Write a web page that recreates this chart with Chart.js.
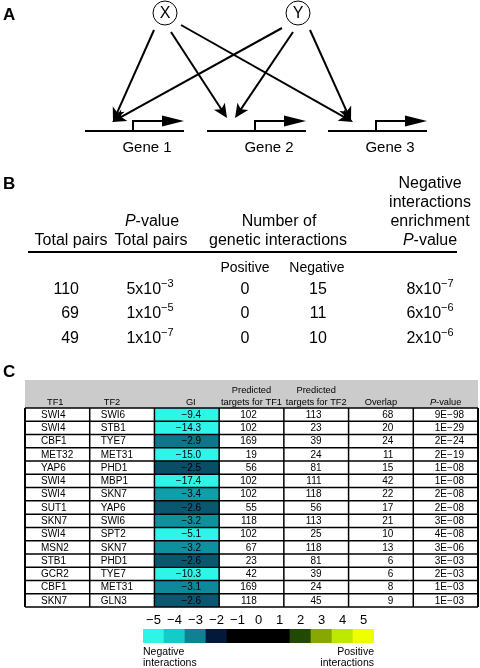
<!DOCTYPE html>
<html><head><meta charset="utf-8">
<script src="https://cdn.jsdelivr.net/npm/chart.js@4/dist/chart.umd.min.js"></script>
<style>
html,body{margin:0;padding:0;background:#fff;}
#wrap{position:relative;width:480px;height:668px;overflow:hidden;}
canvas{position:absolute;left:0;}
</style></head><body>
<div id="wrap">
<canvas id="main" width="480" height="668" style="top:0"></canvas>
<canvas id="scale" width="480" height="60" style="top:608px"></canvas>
</div>
<script>
// ---------- Data: panel C ----------
const tf1 = ['SWI4','SWI4','CBF1','MET32','YAP6','SWI4','SWI4','SUT1','SKN7','SWI4','MSN2','STB1','GCR2','CBF1','SKN7'];
const tf2 = ['SWI6','STB1','TYE7','MET31','PHD1','MBP1','SKN7','YAP6','SWI6','SPT2','SKN7','PHD1','TYE7','MET31','GLN3'];
const gi = [-9.4,-14.3,-2.9,-15.0,-2.5,-17.4,-3.4,-2.6,-3.2,-5.1,-3.2,-2.6,-10.3,-3.1,-2.6];
const targetsTF1 = [102,102,169,19,56,102,102,55,118,102,67,23,42,169,118];
const targetsTF2 = [113,23,39,24,81,111,118,56,113,25,118,81,39,24,45];
const overlap = [68,20,24,11,15,42,22,17,21,10,13,6,6,8,9];
const pValues = ['9E−98','1E−29','2E−24','2E−19','1E−08','1E−08','2E−08','2E−08','3E−08','4E−08','3E−06','3E−03','2E−03','1E−03','1E−03'];
// ---------- Data: colour scale ----------
const colorTicks = [-5,-4,-3,-2,-1,0,1,2,3,4,5];
const colorStops = ['#2ff5e8','#14cbcb','#0e8194','#04183a','#000000','#000000','#000000','#214a00','#87a800','#bde800','#eeff00'];
// ---------- Data: panel B ----------
const totalPairs = [110,69,49];
const pTotalMant = ['5','1','1'];
const pTotalExp = ['−3','−5','−7'];
const positiveGI = [0,0,0];
const negativeGI = [15,11,10];
const enrichMant = ['8','6','2'];
const enrichExp = ['−7','−6','−6'];
// ---------- Data: panel A ----------
const regulators = ['X','Y'];
const genes = ['Gene 1','Gene 2','Gene 3'];
const edges = [[0,0],[0,1],[0,2],[1,0],[1,1],[1,2]];

const FONT = '"Liberation Sans", Arial, Helvetica, sans-serif';
const GI_COL = 2;

function hex2rgb(h){return [parseInt(h.substr(1,2),16),parseInt(h.substr(3,2),16),parseInt(h.substr(5,2),16)];}
function colorFor(v){
  const lo = colorTicks[0], hi = colorTicks[colorTicks.length-1];
  const c = Math.max(lo, Math.min(hi, v));
  let i = Math.floor(c - lo); if (i >= colorTicks.length-1) i = colorTicks.length-2;
  const t = (c - colorTicks[i]) / (colorTicks[i+1]-colorTicks[i]);
  const a = hex2rgb(colorStops[i]), b = hex2rgb(colorStops[i+1]);
  const r = a.map((x,k)=>Math.round(x+(b[k]-x)*t));
  return 'rgb('+r.join(',')+')';
}
function fmt(v){return v.toFixed(1).replace('-','−');}

function text(ctx, s, x, y, size, align, weight, style){
  ctx.font = (style||'') + ' ' + (weight||'') + ' ' + size + 'px ' + FONT;
  ctx.textAlign = align || 'left';
  ctx.textBaseline = 'middle';
  ctx.fillStyle = '#000';
  ctx.fillText(s, x, y);
}
function sci(ctx, mant, exp, cx, y, size){
  const base = mant + 'x10';
  ctx.font = size + 'px ' + FONT;
  const w1 = ctx.measureText(base).width;
  ctx.font = Math.round(size*0.7) + 'px ' + FONT;
  const w2 = ctx.measureText(exp).width;
  const x0 = cx - (w1+w2)/2;
  text(ctx, base, x0, y, size, 'left');
  text(ctx, exp, x0 + w1, y - size*0.38, Math.round(size*0.7), 'left');
}
function pValueLabel(ctx, cx, y, size){
  ctx.font = 'italic ' + size + 'px ' + FONT;
  const w1 = ctx.measureText('P').width;
  ctx.font = size + 'px ' + FONT;
  const w2 = ctx.measureText('-value').width;
  const x0 = cx - (w1+w2)/2;
  text(ctx,'P',x0,y,size,'left','','italic');
  text(ctx,'-value',x0+w1,y,size,'left');
}
function arrowHead(ctx, x1, y1, x2, y2, len, half){
  const ang = Math.atan2(y2-y1, x2-x1);
  const cos = Math.cos(ang), sin = Math.sin(ang);
  ctx.beginPath();
  ctx.moveTo(x2, y2);
  ctx.lineTo(x2 - len*cos + half*sin, y2 - len*sin - half*cos);
  ctx.lineTo(x2 - len*0.75*cos, y2 - len*0.75*sin);
  ctx.lineTo(x2 - len*cos - half*sin, y2 - len*sin + half*cos);
  ctx.closePath();
  ctx.fill();
}

// panel A layout
const A = {
  nodes: [{x:165,y:13},{x:298,y:13}], r: 12,
  geneLineY: 131, geneX: [85,207,328], geneW: 99, labelY: 148,
  starts: [[[154,30],[171,32],[181,25]],[[282,28],[293,32],[310,30]]],
  ends: [[[113,122],[227,118],[353,122]],[[112,122],[235,118],[351,121]]]
};

const figurePlugin = {
  id: 'figure',
  beforeDatasetsDraw(chart){
    const ctx = chart.ctx; const ca = chart.chartArea;
    ctx.save();
    text(ctx,'A',3,15,17,'left','bold');
    text(ctx,'B',3,184,17,'left','bold');
    text(ctx,'C',3,372,17,'left','bold');
    // ---- Panel A
    ctx.strokeStyle = '#000'; ctx.fillStyle = '#000';
    A.nodes.forEach((n,i)=>{
      ctx.lineWidth = 1; ctx.beginPath(); ctx.arc(n.x,n.y,A.r,0,Math.PI*2); ctx.stroke();
      text(ctx, regulators[i], n.x, n.y+1, 16, 'center');
    });
    genes.forEach((g,i)=>{
      const x0 = A.geneX[i], x1 = x0 + A.geneW, y = A.geneLineY;
      ctx.lineWidth = 2; ctx.strokeStyle = '#000';
      ctx.beginPath(); ctx.moveTo(x0,y); ctx.lineTo(x1,y); ctx.stroke();
      const px = x0 + 48;
      ctx.beginPath(); ctx.moveTo(px,y); ctx.lineTo(px,y-10); ctx.lineTo(x1-20,y-10); ctx.stroke();
      ctx.beginPath(); ctx.moveTo(x1,y-10); ctx.lineTo(x1-22,y-15.5); ctx.lineTo(x1-22,y-4.5); ctx.closePath(); ctx.fillStyle='#000'; ctx.fill();
      text(ctx, g, x0 + 62, A.labelY, 15, 'center');
    });
    edges.forEach(([r,g])=>{
      const s = A.starts[r][g], e = A.ends[r][g];
      const ang = Math.atan2(e[1]-s[1], e[0]-s[0]);
      ctx.lineWidth = 2;
      ctx.beginPath(); ctx.moveTo(s[0],s[1]); ctx.lineTo(e[0]-8*Math.cos(ang), e[1]-8*Math.sin(ang)); ctx.stroke();
      arrowHead(ctx, s[0], s[1], e[0], e[1], 14, 6.5);
    });
    // ---- Panel B
    const hs = 16, c4 = 430;
    text(ctx,'Negative',c4,184,hs,'center');
    text(ctx,'interactions',c4,203,hs,'center');
    pValueLabel(ctx,152,222,hs);
    text(ctx,'Number of',279,222,hs,'center');
    text(ctx,'enrichment',c4,222,hs,'center');
    text(ctx,'Total pairs',71,241,hs,'center');
    text(ctx,'Total pairs',151,241,hs,'center');
    text(ctx,'genetic interactions',278,241,hs,'center');
    pValueLabel(ctx,c4,241,hs);
    ctx.lineWidth = 2; ctx.strokeStyle='#000';
    ctx.beginPath(); ctx.moveTo(28,252); ctx.lineTo(457,252); ctx.stroke();
    text(ctx,'Positive',245,268,14,'center');
    text(ctx,'Negative',317,268,14,'center');
    const rowY = [290,314,339];
    totalPairs.forEach((v,i)=>{
      text(ctx,String(v),79,rowY[i],hs,'right');
      sci(ctx,pTotalMant[i],pTotalExp[i],150,rowY[i],hs);
      text(ctx,String(positiveGI[i]),245,rowY[i],hs,'center');
      text(ctx,String(negativeGI[i]),318,rowY[i],hs,'center');
      sci(ctx,enrichMant[i],enrichExp[i],c4,rowY[i],hs);
    });
    // ---- Panel C header background
    ctx.fillStyle = '#cbcbcb';
    ctx.fillRect(ca.left, ca.top - 28, ca.right - ca.left, 28);
    ctx.restore();
  },
  afterDatasetsDraw(chart){
    const ctx = chart.ctx; const ca = chart.chartArea;
    const xs = chart.scales.x, ys = chart.scales.y;
    const colX = c => xs.getPixelForValue(c);
    ctx.save();
    const fs = 10, hf = 9.3;
    const h1 = ca.top - 18, h2 = ca.top - 6;
    text(ctx,'TF1',colX(0)+22,h2,hf,'left');
    text(ctx,'TF2',colX(1)+14,h2,hf,'left');
    text(ctx,'GI',(colX(2)+colX(3))/2+4,h2,hf,'center');
    text(ctx,'Predicted',(colX(3)+colX(4))/2,h1,hf,'center');
    text(ctx,'targets for TF1',(colX(3)+colX(4))/2,h2,hf,'center');
    text(ctx,'Predicted',(colX(4)+colX(5))/2,h1,hf,'center');
    text(ctx,'targets for TF2',(colX(4)+colX(5))/2,h2,hf,'center');
    text(ctx,'Overlap',(colX(5)+colX(6))/2,h2,hf,'center');
    pValueLabel(ctx,(colX(6)+colX(7))/2,h2,hf);
    tf1.forEach((t,i)=>{
      const y = ys.getPixelForValue(i) + 0.5;
      text(ctx,t,colX(0)+16,y,fs,'left');
      text(ctx,tf2[i],colX(1)+11,y,fs,'left');
      text(ctx,fmt(gi[i]),colX(3)-18,y,fs,'right');
      text(ctx,String(targetsTF1[i]),colX(4)-27,y,fs,'right');
      text(ctx,String(targetsTF2[i]),colX(5)-27,y,fs,'right');
      text(ctx,String(overlap[i]),colX(6)-20,y,fs,'right');
      text(ctx,pValues[i],colX(7)-14,y,fs,'right');
    });
    ctx.strokeStyle = '#000'; ctx.lineWidth = 1.5;
    const n = tf1.length;
    for (let i=0;i<=n;i++){
      let y;
      if (i===0) y = ca.top; else if (i===n) y = ca.bottom;
      else y = (ys.getPixelForValue(i-1)+ys.getPixelForValue(i))/2;
      ctx.beginPath(); ctx.moveTo(ca.left,y); ctx.lineTo(ca.right,y); ctx.stroke();
    }
    for (let c=0;c<=7;c++){
      const x = colX(c);
      ctx.lineWidth = (c===0||c===7)?2:1.5;
      ctx.beginPath(); ctx.moveTo(x,ca.top); ctx.lineTo(x,ca.bottom); ctx.stroke();
    }
    ctx.restore();
  }
};

new Chart(document.getElementById('main'), {
  type: 'bar',
  data: {
    labels: tf1.map((t,i)=>t+'/'+tf2[i]),
    datasets: [{
      data: gi.map(()=>[GI_COL, GI_COL+1]),
      backgroundColor: gi.map(colorFor),
      borderWidth: 0, barPercentage: 1, categoryPercentage: 1
    }]
  },
  options: {
    indexAxis: 'y', responsive: false, animation: false, devicePixelRatio: 1,
    layout: {padding: {left:25, right:2, top:408, bottom:61}},
    plugins: {legend:{display:false}, tooltip:{enabled:false}},
    scales: {x:{type:'linear', min:0, max:7, display:false}, y:{display:false}}
  },
  plugins: [figurePlugin]
});

const scalePlugin = {
  id: 'scaleLabels',
  afterDatasetsDraw(chart){
    const ctx = chart.ctx, ca = chart.chartArea, xs = chart.scales.x;
    ctx.save();
    colorTicks.forEach((t,i)=>{
      text(ctx, String(t).replace('-','−'), xs.getPixelForValue(i), ca.top - 9, 13, 'center');
    });
    text(ctx,'Negative',ca.left,ca.bottom+9,10.5,'left');
    text(ctx,'interactions',ca.left,ca.bottom+20,10.5,'left');
    text(ctx,'Positive',ca.right,ca.bottom+9,10.5,'right');
    text(ctx,'interactions',ca.right,ca.bottom+20,10.5,'right');
    ctx.restore();
  }
};

new Chart(document.getElementById('scale'), {
  type: 'bar',
  data: {labels: colorTicks.map(String), datasets: [{data: colorTicks.map(()=>1), backgroundColor: colorStops, borderWidth:0, barPercentage:1, categoryPercentage:1}]},
  options: {
    responsive:false, animation:false, devicePixelRatio:1,
    layout:{padding:{left:143, right:106, top:21, bottom:25}},
    plugins:{legend:{display:false}, tooltip:{enabled:false}},
    scales:{x:{display:false}, y:{display:false, min:0, max:1}}
  },
  plugins:[scalePlugin]
});
</script>
</body></html>
